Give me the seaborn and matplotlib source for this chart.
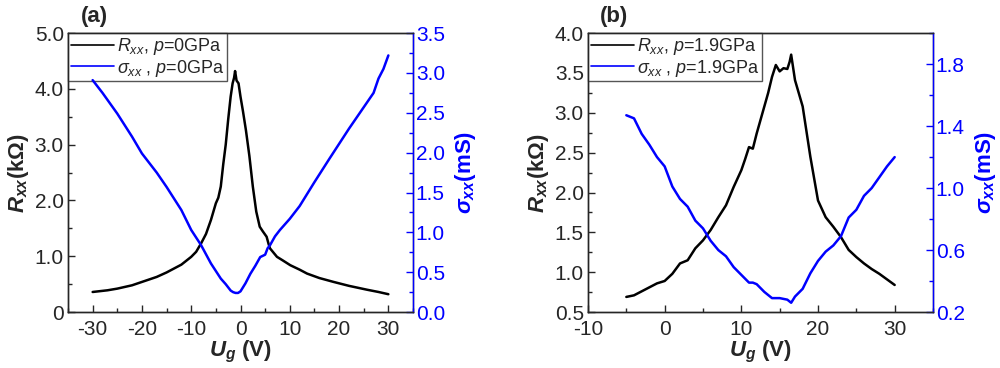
import numpy as np
import pandas as pd
import matplotlib
matplotlib.use("Agg")
import matplotlib.pyplot as plt
import seaborn as sns
from matplotlib.ticker import MultipleLocator, FixedLocator, FormatStrFormatter

# panel (a): p = 0 GPa
ug_a = [-30, -27, -25, -22, -20, -17, -15, -12, -10, -9, -8, -7, -6, -5, -4.5, -4, -3.5, -3, -2.5, -2,
        -1.6, -1.3, -1.1, -0.8, -0.4, 0, 0.5, 1.1, 1.8, 2.5, 3.2, 3.9, 4.5, 5.3, 5.7, 6, 7.4, 8.5,
        10.1, 12, 13.5, 16, 18.9, 22, 25.7, 28, 30]
rxx_a = [0.36, 0.39, 0.42, 0.48, 0.54, 0.63, 0.71, 0.85, 0.99, 1.08, 1.23, 1.40, 1.65, 1.95, 2.05,
         2.25, 2.65, 3.0, 3.45, 3.86, 4.1, 4.2, 4.32, 4.15, 4.1, 3.86, 3.6, 3.26, 2.8, 2.25, 1.8,
         1.53, 1.45, 1.35, 1.22, 1.14, 0.99, 0.93, 0.84, 0.76, 0.69, 0.61, 0.54, 0.47, 0.40, 0.36, 0.32]
ug_a_s = [-30, -28, -25, -22, -20, -17, -15, -12, -10, -8, -6, -4, -3, -2, -1.5, -1, -0.5, 0, 1, 2,
          3, 4, 5, 5.5, 6, 7, 8, 10, 12, 15, 18, 20, 22, 25, 27, 28, 29, 30]
sxx_a = [2.91, 2.75, 2.49, 2.2, 1.99, 1.75, 1.57, 1.28, 1.03, 0.84, 0.61, 0.42, 0.35, 0.27, 0.25,
         0.24, 0.24, 0.26, 0.36, 0.48, 0.58, 0.69, 0.72, 0.8, 0.84, 0.95, 1.03, 1.17, 1.33, 1.63,
         1.92, 2.11, 2.3, 2.57, 2.75, 2.93, 3.05, 3.22]

# panel (b): p = 1.9 GPa
ug_b = [-5, -4, -3, -2, -1, 0, 1, 2, 3, 4, 5, 6, 7, 8, 9, 10, 10.5, 11, 11.5, 12, 13, 13.5, 14,
        14.5, 15, 15.5, 16, 16.3, 16.5, 17, 18, 19, 20, 21, 22, 23, 24, 25, 26, 27, 28, 29, 30]
rxx_b = [0.69, 0.71, 0.76, 0.81, 0.86, 0.89, 0.98, 1.11, 1.15, 1.30, 1.40, 1.53, 1.69, 1.84, 2.07,
         2.28, 2.42, 2.57, 2.55, 2.74, 3.08, 3.25, 3.45, 3.60, 3.52, 3.56, 3.55, 3.64, 3.73, 3.41,
         3.08, 2.45, 1.90, 1.69, 1.57, 1.44, 1.28, 1.19, 1.11, 1.04, 0.98, 0.91, 0.84]
ug_b_s = [-5, -4.5, -4, -3, -2, -1, 0, 1, 2, 3, 4, 5, 6, 7, 8, 9, 10, 11, 11.5, 12, 13, 14, 15,
          16, 16.5, 17, 18, 19, 20, 21, 22, 23, 24, 25, 26, 27, 28, 29, 30]
sxx_b = [1.47, 1.46, 1.45, 1.35, 1.28, 1.20, 1.14, 1.01, 0.93, 0.88, 0.79, 0.74, 0.66, 0.60, 0.56,
         0.49, 0.44, 0.39, 0.39, 0.38, 0.33, 0.29, 0.29, 0.28, 0.26, 0.30, 0.35, 0.45, 0.53, 0.59,
         0.63, 0.69, 0.81, 0.86, 0.95, 1.00, 1.07, 1.14, 1.20]

sns.set_style("white")
plt.rcParams['font.family'] = ['Liberation Sans', 'DejaVu Sans']
plt.rcParams['axes.unicode_minus'] = False
plt.rcParams['mathtext.fontset'] = 'custom'
plt.rcParams['mathtext.rm'] = 'Liberation Sans'
plt.rcParams['mathtext.it'] = 'Liberation Sans:italic'
plt.rcParams['mathtext.bf'] = 'Liberation Sans:bold'
plt.rcParams['mathtext.bfit'] = 'Liberation Sans:italic:bold'

blue = '#0000ff'
fig = plt.figure(figsize=(10, 3.68), dpi=100)


def panel(rect, x_r, y_r, x_s, y_s, p, xlim, ylim, y2lim, tag):
    ax = fig.add_axes(rect)
    ax2 = ax.twinx()
    df_r = pd.DataFrame({'Ug': x_r, 'R': y_r})
    df_s = pd.DataFrame({'Ug': x_s, 'S': y_s})
    sns.lineplot(data=df_r, x='Ug', y='R', ax=ax, color='black', lw=1.8,
                 label=r'$R_{xx}$, $p$=' + p)
    sns.lineplot(data=df_s, x='Ug', y='S', ax=ax2, color=blue, lw=1.8, legend=False)
    ax.plot([], [], color=blue, lw=1.2, label=r'$\sigma_{xx}$ , $p$=' + p)
    ax.set_xlim(*xlim)
    ax.set_ylim(*ylim)
    ax2.set_ylim(*y2lim)
    ax.xaxis.set_major_locator(MultipleLocator(10))
    ax.xaxis.set_minor_locator(MultipleLocator(5))
    for a in (ax, ax2):
        a.tick_params(which='both', direction='in', labelsize=15, pad=3)
        a.tick_params(which='major', length=5, width=1)
        a.tick_params(which='minor', length=3, width=1)
        for s in a.spines.values():
            s.set_linewidth(1.0)
    ax.tick_params(axis='x', pad=6)
    ax.tick_params(axis='y', which='both', left=True, right=False)
    ax.tick_params(axis='x', which='both', bottom=True, top=False)
    ax2.tick_params(axis='y', which='both', colors=blue, pad=2)
    ax2.spines['right'].set_color(blue)
    ax.set_xlabel(r'$\mathbfit{U}_{\mathbfit{g}}$ (V)', fontsize=16, fontweight='bold', labelpad=0)
    ax.set_ylabel(r'$\mathbfit{R}_{\mathbfit{xx}}$(k$\mathbf{\Omega}$)', fontsize=16,
                  fontweight='bold', labelpad=3)
    ax2.set_ylabel(r'$\mathbfit{\sigma}_{\mathbfit{xx}}$(mS)', fontsize=16, fontweight='bold',
                   color=blue, labelpad=6)
    leg = ax.legend(loc='upper left', fontsize=13, frameon=True, fancybox=False,
                    edgecolor='#555555', framealpha=1, borderaxespad=0, borderpad=0.15,
                    handlelength=2.4, handletextpad=0.15, labelspacing=0.05)
    leg.get_frame().set_linewidth(1.0)
    for ln in leg.get_lines():
        ln.set_linewidth(1.2)
    fig.text(rect[0] + 0.026, 0.955, tag, fontsize=16, fontweight='bold', ha='center', va='center')
    return ax, ax2


ax_a, ax_a2 = panel([0.068, 0.152, 0.345, 0.758], ug_a, rxx_a, ug_a_s, sxx_a, '0GPa',
                    (-35, 35), (0, 5), (0, 3.5), '(a)')
ax_a.yaxis.set_major_locator(FixedLocator([0, 1, 2, 3, 4, 5]))
ax_a.yaxis.set_minor_locator(MultipleLocator(0.5))
ax_a.set_yticklabels(['0', '1.0', '2.0', '3.0', '4.0', '5.0'])
ax_a2.yaxis.set_major_locator(MultipleLocator(0.5))
ax_a2.yaxis.set_minor_locator(MultipleLocator(0.25))
ax_a2.yaxis.set_major_formatter(FormatStrFormatter('%.1f'))

ax_b, ax_b2 = panel([0.588, 0.152, 0.345, 0.758], ug_b, rxx_b, ug_b_s, sxx_b, '1.9GPa',
                    (-10, 35), (0.5, 4.0), (0.2, 2.0), '(b)')
ax_b.yaxis.set_major_locator(MultipleLocator(0.5))
ax_b.yaxis.set_minor_locator(MultipleLocator(0.25))
ax_b.yaxis.set_major_formatter(FormatStrFormatter('%.1f'))
ax_b2.yaxis.set_major_locator(FixedLocator([0.2, 0.6, 1.0, 1.4, 1.8]))
ax_b2.yaxis.set_minor_locator(FixedLocator([0.4, 0.8, 1.2, 1.6, 2.0]))
ax_b2.yaxis.set_major_formatter(FormatStrFormatter('%.1f'))

fig.savefig('out.png', dpi=100)
plt.close()
